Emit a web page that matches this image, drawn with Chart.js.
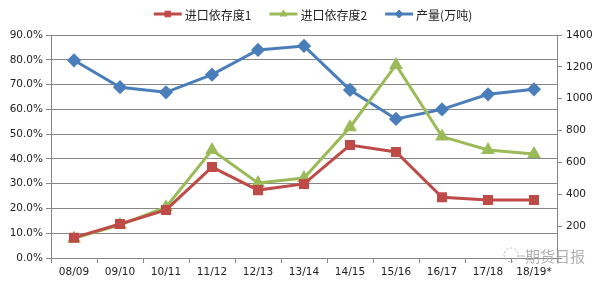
<!DOCTYPE html>
<html>
<head>
<meta charset="utf-8">
<script src="https://cdn.jsdelivr.net/npm/chart.js@4.4.0/dist/chart.umd.min.js"></script>
<style>
    html, body { margin: 0; padding: 0; background: #fff; }
    #wrap { position: relative; width: 600px; height: 284px; }
    #mark { position: absolute; left: 525px; top: 245px; font: 15px "Noto Sans CJK SC"; color: #b0b0b0; }
</style>
</head>
<body>
<div id="wrap">
    <canvas id="c" width="600" height="284"></canvas>
    <div id="mark">期货日报</div>
</div>
<script>
// season labels
var seasons = ['08/09', '09/10', '10/11', '11/12', '12/13', '13/14', '14/15', '15/16', '16/17', '17/18', '18/19*'];
// import dependency (%)
var dep1 = [8.2, 13.7, 19.4, 36.7, 27.4, 29.9, 45.6, 42.8, 24.5, 23.4, 23.4];
var dep2 = [7.9, 13.4, 20.5, 43.6, 30.3, 32.3, 52.8, 77.9, 49.0, 43.6, 42.0];
// output (10k tons)
var output = [1241, 1072, 1040, 1151, 1306, 1331, 1055, 873, 933, 1028, 1059];

var seriesNames = ['进口依存度1', '进口依存度2', '产量(万吨)'];

var gridColor = '#868686';
var tickFont = { family: 'DejaVu Sans', size: 10.5 };

// legend drawn as line + marker, like the office chart
var lineLegend = {
    id: 'lineLegend',
    afterDraw: function(chart) {
        var ctx = chart.ctx;
        var sets = chart.data.datasets;
        var lineW = 28, gap = 3, spacing = 18, y = 14;
        ctx.save();
        ctx.font = '12px "Noto Sans CJK SC"';
        var widths = sets.map(function(ds) { return lineW + gap + ctx.measureText(ds.label).width; });
        var total = widths.reduce(function(a, b) { return a + b; }, 0) + spacing * (sets.length - 1);
        var x = 313 - total / 2;
        sets.forEach(function(ds, i) {
            ctx.strokeStyle = ds.borderColor;
            ctx.lineWidth = 3;
            ctx.beginPath();
            ctx.moveTo(x, y);
            ctx.lineTo(x + lineW, y);
            ctx.stroke();
            ctx.fillStyle = ds.backgroundColor;
            ctx.lineWidth = 1;
            Chart.helpers.drawPoint(ctx, { pointStyle: ds.pointStyle, radius: 4, rotation: 0, borderWidth: 1 }, x + lineW / 2, y);
            ctx.fillStyle = '#222';
            ctx.textBaseline = 'middle';
            ctx.fillText(ds.label, x + lineW + gap, y + 1);
            x += widths[i] + spacing;
        });
        // little logo next to the watermark
        ctx.strokeStyle = '#b8b8b8';
        ctx.lineWidth = 1;
        ctx.setLineDash([2, 2]);
        ctx.beginPath();
        ctx.arc(511, 255, 7, 0, Math.PI * 2);
        ctx.stroke();
        ctx.setLineDash([]);
        ctx.beginPath();
        ctx.moveTo(518, 256);
        ctx.lineTo(525, 256);
        ctx.stroke();
        ctx.restore();
    }
};

var ctx = document.getElementById('c').getContext('2d');
var chart = new Chart(ctx, {
    type: 'line',
    data: {
        labels: seasons,
        datasets: [{
            label: seriesNames[0],
            data: dep1,
            yAxisID: 'y',
            borderColor: '#BE4B48',
            backgroundColor: '#BE4B48',
            pointStyle: 'rect',
            pointRadius: 5,
            borderWidth: 3,
            tension: 0
        }, {
            label: seriesNames[1],
            data: dep2,
            yAxisID: 'y',
            borderColor: '#9BBB59',
            backgroundColor: '#9BBB59',
            pointStyle: 'triangle',
            pointRadius: 5,
            borderWidth: 3,
            tension: 0
        }, {
            label: seriesNames[2],
            data: output,
            yAxisID: 'y2',
            borderColor: '#4A7EBB',
            backgroundColor: '#4A7EBB',
            pointStyle: 'rectRot',
            pointRadius: 5,
            borderWidth: 3,
            tension: 0
        }]
    },
    options: {
        responsive: false,
        animation: false,
        layout: { padding: { top: 35, left: 0, right: 0, bottom: 0 } },
        plugins: {
            legend: { display: false },
            tooltip: { enabled: false }
        },
        scales: {
            x: {
                offset: true,
                grid: { offset: true, drawOnChartArea: false, drawTicks: true, tickLength: 5, color: gridColor },
                border: { color: gridColor },
                ticks: { color: '#222', font: tickFont, padding: 3, maxRotation: 0 },
                afterFit: function(s) { s.height = 26; }
            },
            y: {
                position: 'left',
                min: 0,
                max: 90,
                grid: { color: gridColor, tickLength: 5 },
                border: { color: gridColor },
                ticks: {
                    stepSize: 10,
                    color: '#222',
                    font: tickFont,
                    padding: 3,
                    callback: function(v) { return v.toFixed(1) + '%'; }
                },
                afterFit: function(s) { s.width = 51; }
            },
            y2: {
                position: 'right',
                min: 0,
                max: 1400,
                grid: { drawOnChartArea: false, color: gridColor, tickLength: 5 },
                border: { color: gridColor },
                ticks: {
                    stepSize: 200,
                    color: '#222',
                    font: tickFont,
                    padding: 4,
                    callback: function(v) { return v === 0 ? '' : v; }
                },
                afterFit: function(s) { s.width = 43; }
            }
        }
    },
    plugins: [lineLegend]
});
</script>
</body>
</html>
